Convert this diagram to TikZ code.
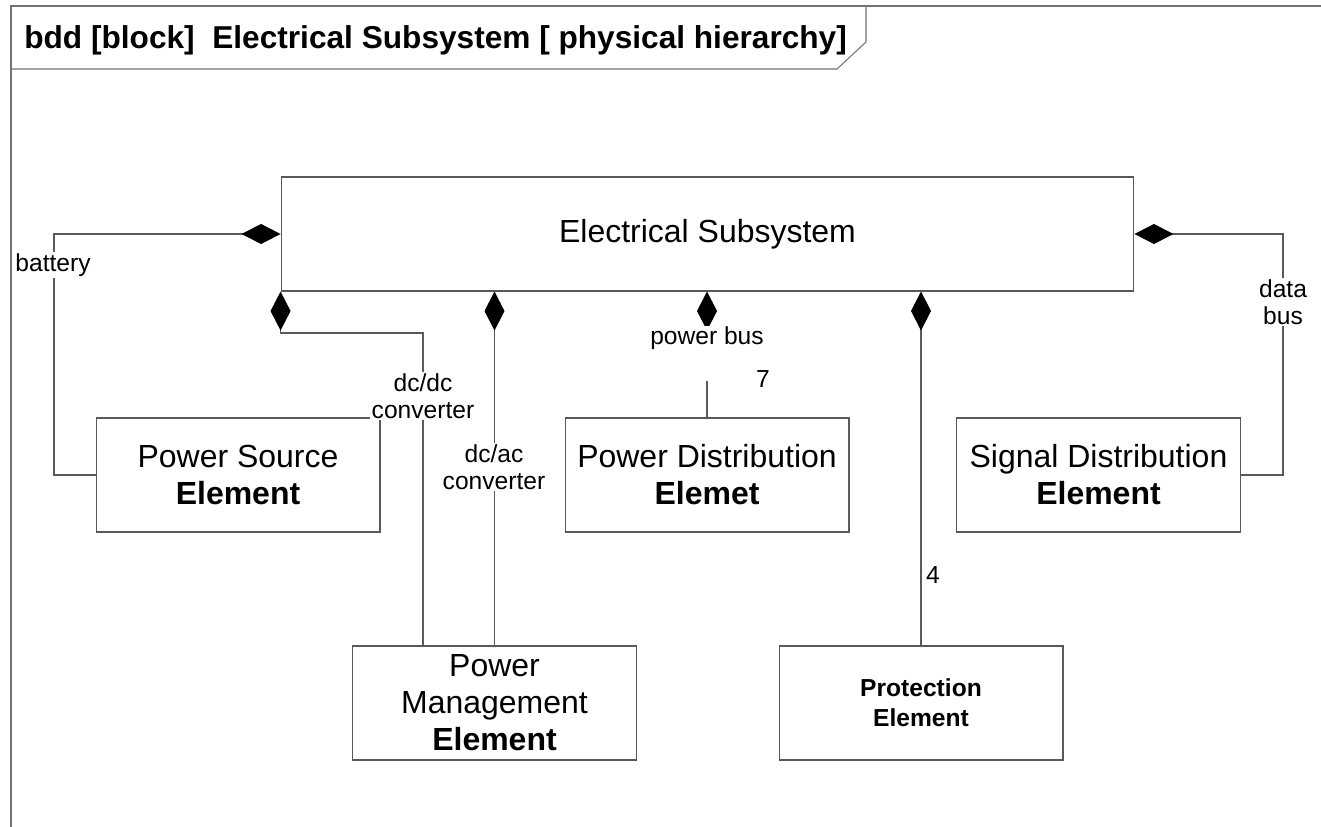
\documentclass[tikz,border=0pt]{standalone}
\usepackage{fontspec}
\setmainfont{Liberation Sans}
\usetikzlibrary{arrows.meta,positioning,calc}
\tikzset{
	block/.style={draw=black!65, line width=0.6pt, inner sep=0pt, align=center,
		minimum width=5.68cm, minimum height=2.28cm,
		font=\fontsize{18.2}{21}\selectfont},
	comp/.style={draw=black!65, line width=0.6pt,
		{Diamond[length=0.78cm,width=0.4cm,color=black]}-},
	lab/.style={fill=white, inner sep=1pt, align=center,
		font=\fontsize{14}{15.5}\selectfont},
	frame/.style={draw=black!55, line width=0.6pt}
}
\newcommand{\elem}{\textbf{Element}}
\begin{document}
\begin{tikzpicture}[x=0.02cm, y=-0.02cm]
	\useasboundingbox (0,0) rectangle (1321,827);
	
	% frame and heading
	\draw[frame] (11,827) -- (11,6) -- (1321,6);
	\draw[frame] (11,69) -- (837,69) -- (866,42) -- (866,6);
	\node[anchor=base west, inner sep=0, font=\bfseries\fontsize{18}{21}\selectfont] (title) at (24,49)
		{bdd [block]\ \ Electrical Subsystem [ physical hierarchy]};
	
	\node[block, minimum width=17.06cm] (es) at (707.5,234) {Electrical Subsystem};
	\node[block] (pse) at (238,475) {Power Source\\ \elem};
	\node[block] (pde) at (707,475) {Power Distribution\\ \textbf{Elemet}};
	\node[block] (sde) at (1098.5,475) {Signal Distribution\\ \elem};
	\node[block] (pme) at (494.5,703) {Power\\ Management\\ \elem};
	\node[block, font=\bfseries\fontsize{14}{17}\selectfont] (pre) at (921,703) {Protection\\ Element};
	
	\coordinate (batt) at (54,234);
	\coordinate (dcdc) at (423,333);
	\coordinate (dbus) at (1283,234);
	
	\draw[comp] (es.west) -- (batt) |- (pse.west);
	\draw[comp] (es.south west) |- (dcdc) -- (dcdc |- pme.north);
	\draw[comp] (pme.north |- es.south) -- (pme.north);
	\draw[comp] (pde.north |- es.south) -- (pde.north);
	\draw[comp] (pre.north |- es.south) -- (pre.north);
	\draw[comp] (es.east) -- (dbus) |- (sde.east);
	
	\node[lab] (lbat) at (53,265) {battery};
	\node[lab] (ldcdc) at (423,396) {dc/dc\\ converter};
	\node[lab] (ldcac) at (494,467) {dc/ac\\ converter};
	\node[lab, anchor=north, text depth=21pt, inner ysep=0pt] (lpbus) at (707,326) {power bus};
	\node[lab, fill=none] (lseven) at (763,379) {7};
	\node[lab, fill=none] (lfour) at (933,575) {4};
	\node[lab] (ldbus) at (1283,302) {data\\ bus};
	%\node[lab] at (707,600) {};
\end{tikzpicture}
\end{document}
